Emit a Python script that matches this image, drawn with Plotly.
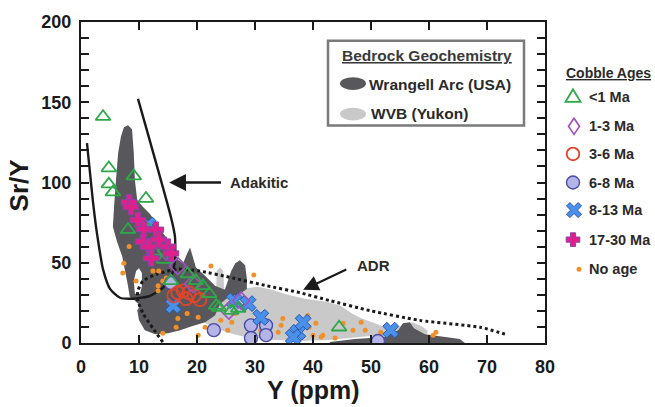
import math
import plotly.graph_objects as go

# ---------------- data (Y ppm vs Sr/Y) ----------------
# Cobble ages
tri_x = [3.8, 4.8, 4.8, 5.5, 9.1, 11.2, 8.1, 10.9, 12.6, 14.3, 18.4, 15.5, 21.0, 22.1, 23.3, 23.8, 25.9, 27.1, 44.5, 19.8]
tri_y = [141, 109, 99, 94, 104, 90, 70.6, 73.6, 57, 52, 43, 38.7, 35.6, 30.7, 23.3, 22.1, 20.2, 21.5, 9.8, 38.7]

dia_x = [16.7, 25.5, 14.7, 19.3, 27.6]
dia_y = [47.9, 20.2, 57.0, 36.8, 26.4]

red_x = [16.7, 17.6, 18.6, 19.5, 20.5, 18.1, 16.0]
red_y = [31.3, 32.5, 31.3, 29.4, 27.0, 27.6, 29.4]

lav_x = [15.5, 22.9, 29.3, 29.3, 31.9, 31.9, 51.2]
lav_y = [37.4, 8.0, 11.0, 3.1, 11.0, 4.9, 1.2]

bx_x = [15.9, 26.4, 28.8, 31.0, 37.4, 36.6, 38.3, 53.4, 11.6]
bx_y = [23.3, 26.4, 24.5, 16.0, 6.7, 3.7, 12.9, 8.0, 73.6]

pl_x = [8.3, 8.6, 9.8, 10.9, 12.9, 10.7, 11.7, 12.1, 15.0, 13.4, 15.5]
pl_y = [87.7, 84.7, 76.7, 71.0, 70.6, 63.2, 60.0, 52.8, 60.0, 64.4, 55.8]

org_x = [7.4, 8.3, 9.5, 13.3, 14.7, 13.4, 12.4, 14.1, 13.3, 22.4, 29.8, 14.1, 20.2, 20.2, 16.7, 16.4,
         24.1, 25.3, 21.4, 26.0, 34.5, 34.0, 34.8, 39.1, 39.3, 40.5, 41.4, 40.0, 41.7, 43.8, 45.2, 46.9,
         48.3, 49.0, 51.7, 60.7, 61.2, 7.2, 15.2, 31.0, 18.3, 26.6]
org_y = [49.7, 60.1, 38.7, 35.6, 40.5, 44.8, 44.8, 38.7, 32.5, 47.9, 42.3, 6.1, 4.9, 16.0, 15.3, 9.8,
         14.1, 8.0, 9.8, 12.9, 11.0, 6.7, 15.3, 17.2, 9.8, 12.3, 3.7, 4.9, 4.9, 3.1, 12.3, 8.0,
         12.9, 8.0, 6.7, 4.9, 6.7, 43.6, 25.2, 8.0, 18.4, 18.4]

# Bedrock geochemistry fields
wr_x = [8.1, 8.8, 9.1, 9.3, 9.7, 10.7, 11.9, 13.3, 14.7, 15.9, 16.7, 17.6, 18.3, 18.8, 19.3, 19.8, 21.6,
        23.1, 24.8, 25.9, 26.6, 27.4, 28.3, 28.6, 28.6, 27.4, 25.3, 24.0, 23.1, 21.4, 19.1, 17.1, 15.0,
        12.8, 11.0, 10.0, 9.7, 10.2, 9.3, 8.4, 8.1, 7.6, 7.1, 6.2, 5.5, 5.7, 6.0, 6.4, 6.9, 7.4]
wr_y = [135.6, 133.1, 118.4, 101.2, 89.0, 84.7, 80.4, 73.0, 65.6, 58.3, 52.1, 49.7, 55.8, 59.5, 53.4, 47.2, 41.1,
        35.6, 33.1, 44.8, 49.7, 51.5, 48.5, 39.9, 33.7, 30.7, 28.2, 24.5, 17.2, 12.9, 10.4, 8.0, 6.1,
        5.5, 8.0, 14.1, 20.2, 23.3, 26.4, 28.8, 35.6, 44.8, 54.0, 63.2, 72.4, 84.7, 100.0, 118.4, 128.8, 134.4]
wr2_x = [42.9, 47.2, 52.4, 54.7, 55.5, 56.7, 57.4, 59.3, 62.8, 65.3, 66.2, 42.9]
wr2_y = [0.6, 2.5, 3.7, 8.0, 12.3, 12.9, 9.2, 5.5, 3.7, 2.5, 0.0, 0.0]
hole_x = [9.3, 9.1, 9.5, 10.0, 10.5, 10.5, 10.2]
hole_y = [30.7, 38.7, 44.8, 46.6, 43.6, 35.6, 30.7]

wvb_x = [20.5, 21.0, 22.2, 23.3, 23.4, 24.0, 24.5, 24.7, 27.4, 30.5, 32.9, 35.7, 38.6, 42.1, 44.7, 46.7,
         48.4, 50.2, 52.4, 55.0, 57.1, 58.8, 59.8, 59.5, 56.7, 53.3, 49.8, 46.4, 42.9, 37.8, 33.4, 30.5,
         28.3, 25.7, 23.1]
wvb_y = [14.1, 21.5, 27.6, 32.5, 44.8, 47.2, 44.8, 33.7, 33.7, 35.0, 33.1, 30.1, 27.6, 25.8, 23.3, 18.4,
         15.3, 12.9, 9.8, 10.4, 12.9, 10.4, 7.4, 4.3, 3.1, 3.7, 4.3, 3.1, 1.8, 1.2, 1.8, 3.1,
         3.7, 6.1, 9.2]

# Discrimination curves
adak_x = [1.03, 1.55, 2.07, 2.59, 3.10, 3.79, 5.0, 6.72, 8.97, 11.9, 14.1, 15.7, 16.2, 16.2, 15.5, 9.83]
adak_y = [124.5, 106.1, 87.7, 72.4, 60.1, 46.0, 33.7, 28.2, 27.6, 29.4, 34.4, 42.9, 52.1, 66.3, 78.5, 152.1]
adr_x = [14.1, 12.4, 10.7, 9.8, 9.8, 10.7, 13.1, 16.6, 20.5, 26.2, 32.1, 37.8, 42.9, 49.8, 58.4, 68.8, 73.1]
adr_y = [0.6, 9.2, 18.4, 26.4, 32.5, 38.7, 42.9, 46.0, 44.8, 40.5, 35.6, 31.3, 26.4, 20.2, 14.1, 9.8, 5.5]

x_ticks = list(range(0, 81, 10))
y_ticks = list(range(0, 201, 10))
y_ticktext = [str(v) if v % 50 == 0 else "" for v in y_ticks]

cobble_names = ["&lt;1 Ma", "1-3 Ma", "3-6 Ma", "6-8 Ma", "8-13 Ma", "17-30 Ma", "No age"]
bedrock_names = ["Wrangell Arc (USA)", "WVB (Yukon)"]

# ---------------- styling ----------------
FONT = "Liberation Sans, Arial, sans-serif"
W, H = 655, 407
L, R, T, B = 81, 110, 17, 64
PW, PH = W - L - R, H - T - B
DARK = "#58585c"
LIGHT = "#c9c9c9"
INK = "#1a1a1a"

C_TRI, C_DIA, C_RED = "#2fa84a", "#a050c0", "#e0452a"
C_LAV, C_LAVE = "#b4b4e6", "#4a4aa8"
C_BX, C_BXE = "#4a8fe8", "#2656b0"
C_PL, C_PLE = "#e0208a", "#8844aa"
C_ORG = "#f0902a"


def pxp(x):
    return (x - L) / PW


def pyp(y):
    return (H - B - y) / PH


styles = [
    dict(symbol="triangle-up-open", size=13, color=C_TRI, line=dict(width=1.8, color=C_TRI)),
    dict(symbol="diamond-open", size=13, color=C_DIA, line=dict(width=1.6, color=C_DIA)),
    dict(symbol="circle-open", size=13, color=C_RED, line=dict(width=1.8, color=C_RED)),
    dict(symbol="circle", size=13, color=C_LAV, line=dict(width=1.4, color=C_LAVE)),
    dict(symbol="x", size=14, color=C_BX, line=dict(width=1, color=C_BXE)),
    dict(symbol="cross", size=13, color=C_PL, line=dict(width=1, color=C_PLE)),
    dict(symbol="circle", size=5, color=C_ORG, line=dict(width=0)),
]
series = [(tri_x, tri_y), (dia_x, dia_y), (red_x, red_y), (lav_x, lav_y),
          (bx_x, bx_y), (pl_x, pl_y), (org_x, org_y)]

fig = go.Figure()

# fields
fig.add_trace(go.Scatter(x=wvb_x, y=wvb_y, fill="toself", fillcolor=LIGHT, mode="none",
                         hoverinfo="skip", showlegend=False))
fig.add_trace(go.Scatter(x=wr_x, y=wr_y, fill="toself", fillcolor=DARK, mode="none",
                         hoverinfo="skip", showlegend=False))
fig.add_trace(go.Scatter(x=wr2_x, y=wr2_y, fill="toself", fillcolor=DARK, mode="none",
                         hoverinfo="skip", showlegend=False))
fig.add_trace(go.Scatter(x=hole_x, y=hole_y, fill="toself", fillcolor="white", mode="none",
                         hoverinfo="skip", showlegend=False))

# curves
fig.add_trace(go.Scatter(x=adak_x, y=adak_y, mode="lines",
                         line=dict(color=INK, width=2.4, shape="spline", smoothing=0.6),
                         hoverinfo="skip", showlegend=False))
fig.add_trace(go.Scatter(x=adr_x, y=adr_y, mode="lines",
                         line=dict(color=INK, width=3, dash="3px,3px", shape="spline", smoothing=0.6),
                         hoverinfo="skip", showlegend=False))

# points (orange first, then the others)
order = [6, 3, 4, 2, 1, 0, 5]
for i in order:
    sx, sy = series[i]
    fig.add_trace(go.Scatter(x=sx, y=sy, mode="markers", marker=styles[i],
                             name=cobble_names[i], showlegend=False))

shapes = []
annotations = []


def poly_path(pts):
    return "M" + " L".join(f"{x:.2f},{y:.2f}" for x, y in pts) + " Z"


def cross_pts(e, w, rot=0.0):
    base = [(-w, e), (w, e), (w, w), (e, w), (e, -w), (w, -w), (w, -e), (-w, -e),
            (-w, -w), (-e, -w), (-e, w), (-w, w)]
    c, s = math.cos(rot), math.sin(rot)
    return [(x * c - y * s, x * s + y * c) for x, y in base]


def key_path(cx, cy, path, fill, line_color, line_width):
    return dict(type="path", xref="paper", yref="paper", xsizemode="pixel", ysizemode="pixel",
                xanchor=pxp(cx), yanchor=pyp(cy), path=path, fillcolor=fill,
                line=dict(color=line_color, width=line_width), layer="above")


def key_circle(cx, cy, r, fill, line_color, line_width):
    return dict(type="circle", xref="paper", yref="paper", xsizemode="pixel", ysizemode="pixel",
                xanchor=pxp(cx), yanchor=pyp(cy), x0=-r, x1=r, y0=-r, y1=r,
                fillcolor=fill, line=dict(color=line_color, width=line_width), layer="above")


# cobble-age legend keys
leg_y = [93, 123, 151, 180, 208, 238, 268]
KX = 573
shapes.append(key_path(KX, leg_y[0], poly_path([(-7.5, -5), (7.5, -5), (0, 7.5)]),
                       "rgba(0,0,0,0)", C_TRI, 1.8))
shapes.append(key_path(KX + 1, leg_y[1], poly_path([(0, -8), (5.5, 0), (0, 8), (-5.5, 0)]),
                       "rgba(0,0,0,0)", C_DIA, 1.7))
shapes.append(key_circle(KX, leg_y[2], 6.3, "rgba(0,0,0,0)", C_RED, 1.8))
shapes.append(key_circle(KX, leg_y[3], 6.5, C_LAV, C_LAVE, 1.4))
shapes.append(key_path(KX + 1, leg_y[4], poly_path(cross_pts(8.2, 2.4, math.pi / 4)), C_BX, C_BXE, 1))
shapes.append(key_path(KX, leg_y[5], poly_path(cross_pts(6.8, 2.6)), C_PL, C_PLE, 1))
shapes.append(key_circle(KX + 6, leg_y[6], 2.5, C_ORG, C_ORG, 0))

# bedrock legend box
shapes.append(dict(type="rect", xref="paper", yref="paper", x0=pxp(328), x1=pxp(524),
                   y0=pyp(122), y1=pyp(36), line=dict(color="#7a7a7a", width=2.5),
                   fillcolor="white", layer="above"))
shapes.append(dict(type="circle", xref="paper", yref="paper", x0=pxp(340), x1=pxp(366),
                   y0=pyp(86), y1=pyp(73), line=dict(width=0), fillcolor=DARK, layer="above"))
shapes.append(dict(type="circle", xref="paper", yref="paper", x0=pxp(340), x1=pxp(366),
                   y0=pyp(117), y1=pyp(104), line=dict(width=0), fillcolor=LIGHT, layer="above"))

annotations.append(dict(xref="paper", yref="paper", x=pxp(340), y=pyp(51), xanchor="left", yanchor="middle",
                        text="<u>Bedrock Geochemistry</u>", showarrow=False,
                        font=dict(family=FONT, size=15.5, color="#3a3a3a", weight="bold")))
annotations.append(dict(xref="paper", yref="paper", x=pxp(367), y=pyp(80), xanchor="left", yanchor="middle",
                        text=bedrock_names[0], showarrow=False,
                        font=dict(family=FONT, size=15.5, color="#2a2a2a", weight="bold")))
annotations.append(dict(xref="paper", yref="paper", x=pxp(369), y=pyp(110), xanchor="left", yanchor="middle",
                        text=bedrock_names[1], showarrow=False,
                        font=dict(family=FONT, size=15.5, color="#2a2a2a", weight="bold")))

# cobble legend text
annotations.append(dict(xref="paper", yref="paper", x=pxp(564), y=pyp(69), xanchor="left", yanchor="middle",
                        text="<u>Cobble Ages</u>", showarrow=False,
                        font=dict(family=FONT, size=14, color="#2a2a2a", weight="bold")))
for i in range(7):
    annotations.append(dict(xref="paper", yref="paper", x=pxp(587), y=pyp(leg_y[i]), xanchor="left",
                            yanchor="middle", text=cobble_names[i], showarrow=False,
                            font=dict(family=FONT, size=14.5, color="#2a2a2a", weight="bold")))

# curve labels with arrows
annotations.append(dict(x=15.2, y=100, ax=24.4, ay=100, xref="x", yref="y", axref="x", ayref="y",
                        text="", showarrow=True, arrowhead=2, arrowsize=1.4, arrowwidth=2.4, arrowcolor=INK))
annotations.append(dict(x=25.4, y=100, xref="x", yref="y", xanchor="left", yanchor="middle",
                        text="Adakitic", showarrow=False,
                        font=dict(family=FONT, size=15, color="#2a2a2a", weight="bold")))
annotations.append(dict(x=38.3, y=33.1, ax=46.0, ay=46.3, xref="x", yref="y", axref="x", ayref="y",
                        text="", showarrow=True, arrowhead=2, arrowsize=1.4, arrowwidth=2.2, arrowcolor=INK))
annotations.append(dict(x=47.3, y=48.5, xref="x", yref="y", xanchor="left", yanchor="middle",
                        text="ADR", showarrow=False,
                        font=dict(family=FONT, size=15, color="#2a2a2a", weight="bold")))

# axis titles
annotations.append(dict(xref="paper", yref="paper", x=pxp(313), y=pyp(391), xanchor="center", yanchor="middle",
                        text="Y (ppm)", showarrow=False,
                        font=dict(family=FONT, size=25, color=INK, weight="bold")))
annotations.append(dict(xref="paper", yref="paper", x=pxp(19), y=pyp(183), xanchor="center", yanchor="middle",
                        text="Sr/Y", textangle=-90, showarrow=False,
                        font=dict(family=FONT, size=26, color=INK, weight="bold")))

axis_common = dict(ticks="inside", ticklen=8, tickwidth=2, tickcolor=INK, showline=True, linewidth=2,
                   linecolor=INK, mirror="ticks", showgrid=False, zeroline=False,
                   tickfont=dict(family=FONT, size=18, color=INK, weight="bold"))

fig.update_layout(
    width=W, height=H,
    margin=dict(l=L, r=R, t=T, b=B, pad=0),
    paper_bgcolor="white", plot_bgcolor="white",
    showlegend=False,
    xaxis=dict(range=[0, 80], tickvals=x_ticks, ticktext=[str(v) for v in x_ticks],
               ticklabelstandoff=6, **axis_common),
    yaxis=dict(range=[0, 200], tickvals=y_ticks, ticktext=y_ticktext,
               ticklabelstandoff=4, **axis_common),
    shapes=shapes,
    annotations=annotations,
)

fig.write_html("out.html")
